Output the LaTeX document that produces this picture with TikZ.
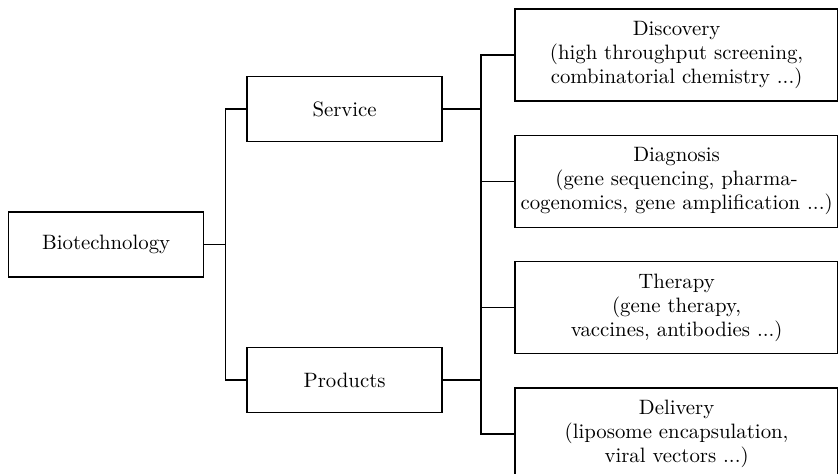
\documentclass[tikz,border=0pt]{standalone}
\usepackage{tikz}
\usetikzlibrary{positioning,calc}

\begin{document}
\begin{tikzpicture}[
    font=\fontsize{10.4}{12}\selectfont,
    box/.style={draw, line width=0.7pt, align=center,
                minimum width=97.5pt, minimum height=32.5pt,
                inner sep=2pt, fill=white},
    leaf/.style={box, minimum width=161.5pt, minimum height=46pt},
    link/.style={line width=0.7pt}
]
% --- root and first level ----------------------------------------------
\node[box]                                      (bio) {Biotechnology};
\useasboundingbox ([xshift=-4pt, yshift=122.25pt]bio.west)
    rectangle ([xshift=415pt, yshift=-114.25pt]bio.west);
\node[box, above right=34.5pt and 21pt of bio]  (svc) {Service};
\node[box, below right=34.5pt and 21pt of bio]  (prd) {Products};
% --- second level -------------------------------------------------------
\node[leaf, anchor=south west]
     at ([xshift=155pt, yshift=8.25pt]bio.east)  (diag) {Diagnosis \\
        (gene sequencing, pharma- \\
        cogenomics, gene amplification ...)};
\node[leaf, above=16.5pt of diag]               (disc) {Discovery \\
        (high throughput screening, \\
        combinatorial chemistry ...)};
\node[leaf, below=16.5pt of diag]               (ther) {Therapy \\
        (gene therapy, \\
        vaccines, antibodies ...)};
\node[leaf, below=16.5pt of ther]               (deli) {Delivery \\
        (liposome encapsulation, \\
        viral vectors ...)};
% --- connectors ---------------------------------------------------------
\coordinate (j1) at ([xshift=10.5pt]bio.east);
\coordinate (j2) at ([xshift=19pt]svc.east);
\draw[link] (bio.east) -- (j1);
\draw[link] (svc.west) -| (j1) |- (prd.west);
\draw[link] (svc.east) -- (j2);
\draw[link] (prd.east) -- (prd.east -| j2);
\draw[link] (disc.west) -| (j2) |- (deli.west);
\foreach \n in {diag,ther}
    \draw[link] (\n.west) -- (\n.west -| j2);
\end{tikzpicture}
\end{document}
